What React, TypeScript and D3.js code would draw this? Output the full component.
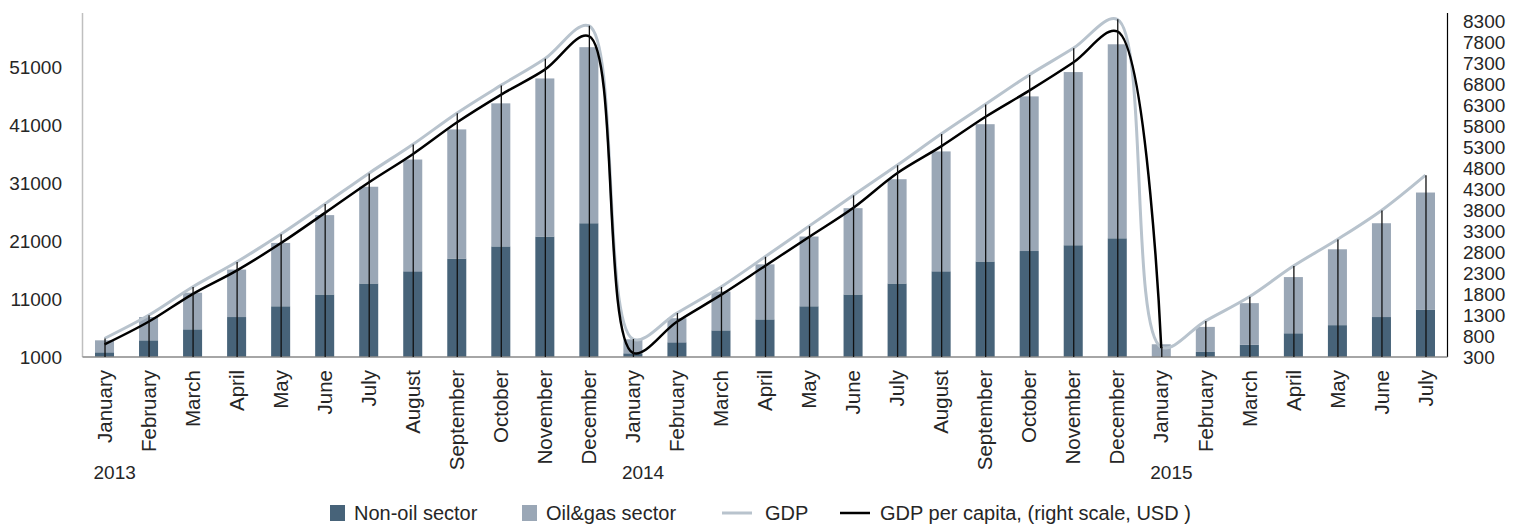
import React from "react";
import * as d3 from "d3";

const months = ["January","February","March","April","May","June","July","August","September","October","November","December",
  "January","February","March","April","May","June","July","August","September","October","November","December",
  "January","February","March","April","May","June","July"];
const years = [{ label: "2013", index: 0 }, { label: "2014", index: 12 }, { label: "2015", index: 24 }];

const nonOil = [1810, 3880, 5780, 7900, 9760, 11800, 13700, 15800, 18000, 20100, 21800, 24100,
  1640, 3540, 5600, 7500, 9760, 11800, 13700, 15800, 17500, 19300, 20300, 21500,
  1000, 1870, 3100, 5100, 6500, 7900, 9200];
const oilGas = [2070, 4020, 6320, 8200, 10940, 13700, 16700, 19300, 22300, 24700, 27300, 30400,
  2420, 4160, 6700, 9500, 12040, 14900, 18000, 20700, 23700, 26700, 29900, 33500,
  2200, 4330, 7200, 9700, 13100, 16200, 20200];
const gdp = [4200, 8200, 13100, 17400, 22200, 27400, 32700, 37700, 43100, 47900, 52500, 58200,
  4100, 8600, 13100, 18300, 23600, 28900, 34100, 39500, 44600, 49700, 54300, 59300,
  2700, 7200, 11400, 16700, 21300, 26300, 32400];
const gdpPerCapita: (number | null)[] = [600, 1140, 1800, 2360, 3010, 3730, 4460, 5135, 5890, 6550, 7150, 7950,
  400, 1140, 1780, 2470, 3160, 3850, 4680, 5320, 6020, 6650, 7320, 8060,
  510, null, null, null, null, null, null];

const leftTicks = [1000, 11000, 21000, 31000, 41000, 51000];
const rightTicks = [300, 800, 1300, 1800, 2300, 2800, 3300, 3800, 4300, 4800, 5300, 5800, 6300, 6800, 7300, 7800, 8300];

const DARK = "#476379";
const LIGHT = "#9aa7b6";
const GRAYLINE = "#b8c3cd";
const FONT = "'Liberation Sans', Arial, sans-serif";
const TXT = "#262626";

export default function App() {
  const W = 1523, H = 524;
  const left = 82.5, right = 1447.5, top = 13, bottom = 357;
  const idx = months.map((_, i) => i);
  const x = d3.scaleBand<number>().domain(idx).range([left, right]).paddingInner(0.568).paddingOuter(0.284);
  const yL = d3.scaleLinear().domain([1000, 60400]).range([bottom, top]);
  const yR = d3.scaleLinear().domain([300, 8500]).range([bottom, top]);
  const cx = (i: number) => (x(i) as number) + x.bandwidth() / 2;

  const gdpLine = d3.line<number>().x((_, i) => cx(i)).y((d) => yL(d)).curve(d3.curveCatmullRom.alpha(0.5));
  const pcLine = d3.line<number | null>()
    .defined((d) => d !== null)
    .x((_, i) => cx(i)).y((d) => yR(d as number))
    .curve(d3.curveCatmullRom.alpha(0.5));

  return (
    <svg width={W} height={H} style={{ position: "absolute", left: 0, top: 0, background: "#fff" }} fontFamily={FONT}>
      {idx.map((i) => (
        <g key={"b" + i}>
          <rect x={x(i)} width={x.bandwidth()} y={yL(nonOil[i])} height={yL(1000) - yL(nonOil[i])} fill={DARK} />
          <rect x={x(i)} width={x.bandwidth()} y={yL(nonOil[i] + oilGas[i])} height={yL(nonOil[i]) - yL(nonOil[i] + oilGas[i])} fill={LIGHT} />
        </g>
      ))}
      <line x1={left} x2={left} y1={top} y2={bottom} stroke="#bfbfbf" strokeWidth={1.5} />
      <line x1={right} x2={right} y1={top} y2={bottom} stroke="#000" strokeWidth={1.2} />
      <line x1={left} x2={right} y1={bottom} y2={bottom} stroke="#898989" strokeWidth={1.5} />
      <path d={gdpLine(gdp) || ""} fill="none" stroke={GRAYLINE} strokeWidth={3} />
      <path d={pcLine(gdpPerCapita) || ""} fill="none" stroke="#000" strokeWidth={2.5} />
      {idx.map((i) => (
        <line key={"d" + i} x1={cx(i) + 0.5} x2={cx(i) + 0.5} y1={yL(gdp[i])} y2={bottom} stroke="#111" strokeWidth={1.3} />
      ))}
      {leftTicks.map((t) => (
        <text key={"l" + t} x={62} y={yL(t)} dy="0.35em" textAnchor="end" fontSize={19} fill={TXT}>{t}</text>
      ))}
      {rightTicks.map((t) => (
        <text key={"r" + t} x={1463} y={yR(t)} dy="0.35em" textAnchor="start" fontSize={19} fill={TXT}>{t}</text>
      ))}
      {idx.map((i) => (
        <text key={"m" + i} transform={`translate(${cx(i)},370) rotate(-90)`} dy="0.35em" textAnchor="end" fontSize={20.5} fill={TXT}>{months[i]}</text>
      ))}
      {years.map((yv) => (
        <text key={yv.label} x={cx(yv.index) - 11} y={479} fontSize={19} fill={TXT}>{yv.label}</text>
      ))}
      <g fontSize={20} fill={TXT}>
        <rect x={330} y={505} width={15} height={16} fill={DARK} />
        <text x={354} y={513} dy="0.35em">Non-oil sector</text>
        <rect x={522} y={505} width={15} height={16} fill={LIGHT} />
        <text x={546} y={513} dy="0.35em">Oil&amp;gas sector</text>
        <line x1={722} x2={752} y1={513} y2={513} stroke={GRAYLINE} strokeWidth={3} />
        <text x={765} y={513} dy="0.35em">GDP</text>
        <line x1={840} x2={870} y1={513} y2={513} stroke="#000" strokeWidth={2.5} />
        <text x={880} y={513} dy="0.35em">GDP per capita, (right scale, USD )</text>
      </g>
    </svg>
  );
}
